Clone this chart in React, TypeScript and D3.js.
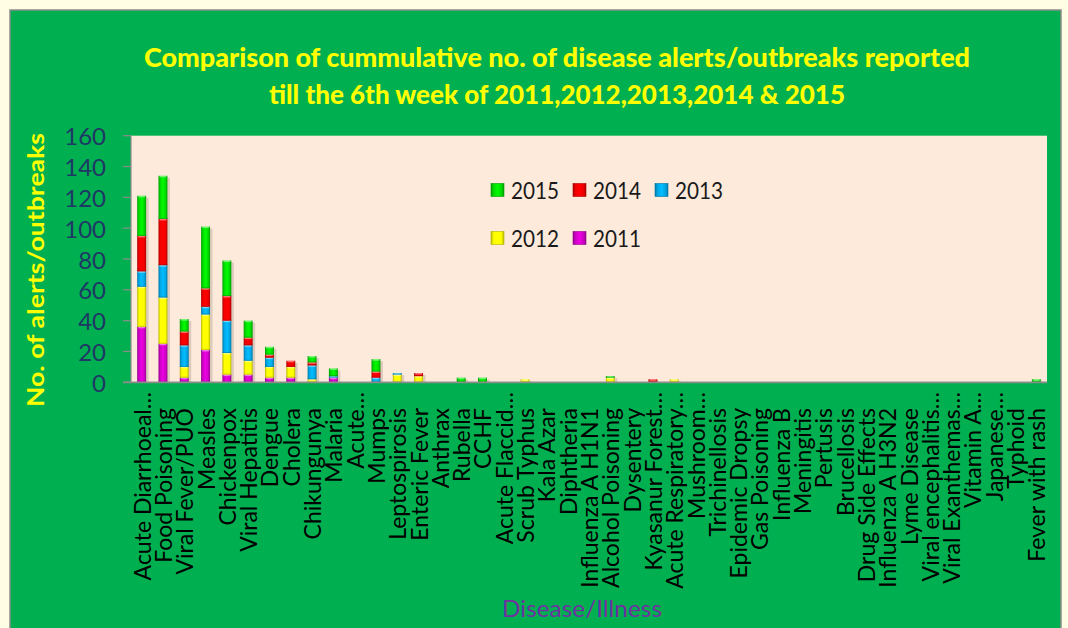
import React from "react";
import * as d3 from "d3";

const categories = [
  "Acute Diarrhoeal…", "Food Poisoning", "Viral Fever/PUO", "Measles", "Chickenpox",
  "Viral Hepatitis", "Dengue", "Cholera", "Chikungunya", "Malaria", "Acute…", "Mumps",
  "Leptospirosis", "Enteric Fever", "Anthrax", "Rubella", "CCHF", "Acute Flaccid…",
  "Scrub Typhus", "Kala Azar", "Diphtheria", "Influenza A H1N1", "Alcohol Poisoning",
  "Dysentery", "Kyasanur Forest…", "Acute Respiratory…", "Mushroom…", "Trichinellosis",
  "Epidemic Dropsy", "Gas Poisoning", "Influenza B", "Meningitis", "Pertusis",
  "Brucellosis", "Drug Side Effects", "Influenza A H3N2", "Lyme Disease",
  "Viral encephalitis…", "Viral Exanthemas…", "Vitamin A…", "Japanese…", "Typhoid",
  "Fever with rash",
];

const y2011 = [36, 25, 3, 21, 5, 5, 3, 3, 0, 3, 0, 0, 0, 0, 0, 0, 0, 0, 0, 0, 0, 0, 0, 0, 0, 0, 0, 0, 0, 0, 0, 0, 0, 0, 0, 0, 0, 0, 0, 0, 0, 0, 0];
const y2012 = [26, 30, 7, 23, 14, 9, 7, 7, 2, 0, 0, 0, 5, 4, 0, 0, 0, 0, 2, 0, 0, 0, 3, 0, 0, 2, 0, 0, 0, 0, 0, 0, 0, 0, 0, 0, 0, 0, 0, 0, 0, 0, 0];
const y2013 = [10, 21, 14, 5, 21, 10, 6, 0, 9, 1, 0, 3, 1, 0, 0, 0, 0, 0, 0, 0, 0, 0, 0, 0, 0, 0, 0, 0, 0, 0, 0, 0, 0, 0, 0, 0, 0, 0, 0, 0, 0, 0, 0];
const y2014 = [23, 30, 9, 12, 16, 5, 2, 4, 2, 0, 0, 4, 0, 2, 0, 0, 0, 0, 0, 0, 0, 0, 0, 0, 2, 0, 0, 0, 0, 0, 0, 0, 0, 0, 0, 0, 0, 0, 0, 0, 0, 0, 0];
const y2015 = [26, 28, 8, 40, 23, 11, 5, 0, 4, 5, 0, 8, 0, 0, 0, 3, 3, 0, 0, 0, 0, 0, 1, 0, 0, 0, 0, 0, 0, 0, 0, 0, 0, 0, 0, 0, 0, 0, 0, 0, 0, 0, 2];

const seriesKeys = ["2011", "2012", "2013", "2014", "2015"];
const seriesValues = [y2011, y2012, y2013, y2014, y2015];
const seriesColors = ["#D100C8", "#FFFF00", "#00A8E8", "#F20000", "#00DD00"];
const yTicks = [0, 20, 40, 60, 80, 100, 120, 140, 160];
const legendRows = [["2015", "2014", "2013"], ["2012", "2011"]];

const W = 1068;
const H = 628;
const FONT = "Lato, 'Open Sans', sans-serif";

export default function App() {
  const x0 = 131, x1 = 1047, yTop = 135.7, yBot = 382.3;
  const x = d3.scaleBand<string>().domain(categories).range([x0, x1]).paddingInner(0.58).paddingOuter(0.29);
  const y = d3.scaleLinear().domain([0, 160]).range([yBot, yTop]);

  const table = categories.map((c, i) => {
    const row: any = { cat: c };
    seriesKeys.forEach((k, si) => (row[k] = seriesValues[si][i]));
    return row;
  });
  const stacked = d3.stack<any>().keys(seriesKeys)(table);
  const totals = table.map((r) => seriesKeys.reduce((s, k) => s + r[k], 0));
  const colorOf = (k: string) => seriesColors[seriesKeys.indexOf(k)];

  const shade = (c: string, k: number) => {
    const col = d3.color(c)!;
    return k > 0 ? col.brighter(k).formatHex() : col.darker(-k).formatHex();
  };

  return (
    <svg width={W} height={H} style={{ position: "absolute", left: 0, top: 0 }} fontFamily={FONT}>
      <defs>
        {seriesKeys.map((k, i) => (
          <linearGradient key={k} id={`g${k}`} x1="0" x2="1" y1="0" y2="0">
            <stop offset="0%" stopColor={shade(seriesColors[i], -0.9)} />
            <stop offset="22%" stopColor={seriesColors[i]} />
            <stop offset="50%" stopColor={shade(seriesColors[i], 0.35)} />
            <stop offset="78%" stopColor={seriesColors[i]} />
            <stop offset="100%" stopColor={shade(seriesColors[i], -0.9)} />
          </linearGradient>
        ))}
      </defs>
      <rect x={0} y={0} width={W} height={H} fill="#FFFDE3" />
      <rect x={10} y={10} width={1051} height={630} fill="#00B050" stroke="#8C8C8C" strokeWidth={1.5} />

      {/* Title */}
      <text x={557} y={67} textAnchor="middle" fill="#FFFF00" fontWeight="900" fontSize={27} textLength={826} lengthAdjust="spacingAndGlyphs">
        Comparison of cummulative no. of disease alerts/outbreaks reported
      </text>
      <text x={557} y={104} textAnchor="middle" fill="#FFFF00" fontWeight="900" fontSize={27} textLength={576} lengthAdjust="spacingAndGlyphs">
        till the 6th week of 2011,2012,2013,2014 &amp; 2015
      </text>

      {/* Plot area */}
      <rect x={x0} y={yTop} width={x1 - x0} height={yBot - yTop} fill="#FDEADA" />

      {/* Bar shadows */}
      {categories.map((c, i) =>
        totals[i] > 0 ? (
          <rect key={"sh" + c} x={x(c)! + 2.5} y={y(totals[i]) + 2} width={x.bandwidth()} height={yBot - y(totals[i]) - 2} fill="rgba(0,0,0,0.13)" />
        ) : null
      )}

      {/* Bars */}
      {stacked.map((s) => (
        <g key={s.key}>
          {s.map((d, i) => {
            const h = y(d[0]) - y(d[1]);
            if (h <= 0) return null;
            const bx = x(categories[i])!;
            const by = y(d[1]);
            const bw = x.bandwidth();
            return (
              <g key={i}>
                <rect x={bx} y={by} width={bw} height={h} fill={`url(#g${s.key})`} />
                <rect x={bx + 1} y={by} width={bw - 2} height={Math.min(1.5, h)} fill="#FFFFFF" opacity={0.45} />
                <rect x={bx} y={by + h - Math.min(1, h)} width={bw} height={Math.min(1, h)} fill={shade(colorOf(s.key), -1.2)} opacity={0.5} />
              </g>
            );
          })}
        </g>
      ))}

      {/* Axes */}
      <line x1={x0} x2={x0} y1={yTop} y2={yBot} stroke="#8C8C8C" strokeWidth={1.2} />
      <line x1={123} x2={x1} y1={yBot} y2={yBot} stroke="#8C8C8C" strokeWidth={1.8} />
      {yTicks.map((t) => (
        <g key={t}>
          <line x1={123} x2={x0} y1={y(t)} y2={y(t)} stroke="#8C8C8C" strokeWidth={1.2} />
          <text x={106} y={y(t)} textAnchor="end" dominantBaseline="central" fontSize={24} fill="#1F3864">
            {t}
          </text>
        </g>
      ))}

      {/* Category labels */}
      {categories.map((c) => {
        const cx = x(c)! + x.bandwidth() / 2;
        const top = c.endsWith("…") ? 392 : 408;
        return (
          <text key={"l" + c} transform={`translate(${cx},${top}) rotate(-90)`} textAnchor="end" dominantBaseline="central" fontSize={23} fill="#000000">
            {c}
          </text>
        );
      })}

      {/* Axis titles */}
      <text transform={`translate(35,270) rotate(-90)`} textAnchor="middle" dominantBaseline="central" fontSize={23} fontWeight="bold" fill="#FFFF00" textLength={274} lengthAdjust="spacingAndGlyphs">
        No. of alerts/outbreaks
      </text>
      <text x={582} y={617} textAnchor="middle" fontSize={23} fill="#7030A0" textLength={160} lengthAdjust="spacingAndGlyphs">
        Disease/Illness
      </text>

      {/* Legend */}
      {legendRows.map((row, ri) =>
        row.map((k, ci) => {
          const lx = 491 + ci * 82;
          const ly = 190 + ri * 48;
          return (
            <g key={k}>
              <rect x={lx} y={ly - 6.5} width={13} height={13} fill={`url(#g${k})`} stroke={shade(colorOf(k), -1)} strokeWidth={0.6} />
              <text x={lx + 20} y={ly} dominantBaseline="central" fontSize={23} fill="#1A1A1A" textLength={48} lengthAdjust="spacingAndGlyphs">
                {k}
              </text>
            </g>
          );
        })
      )}
    </svg>
  );
}
